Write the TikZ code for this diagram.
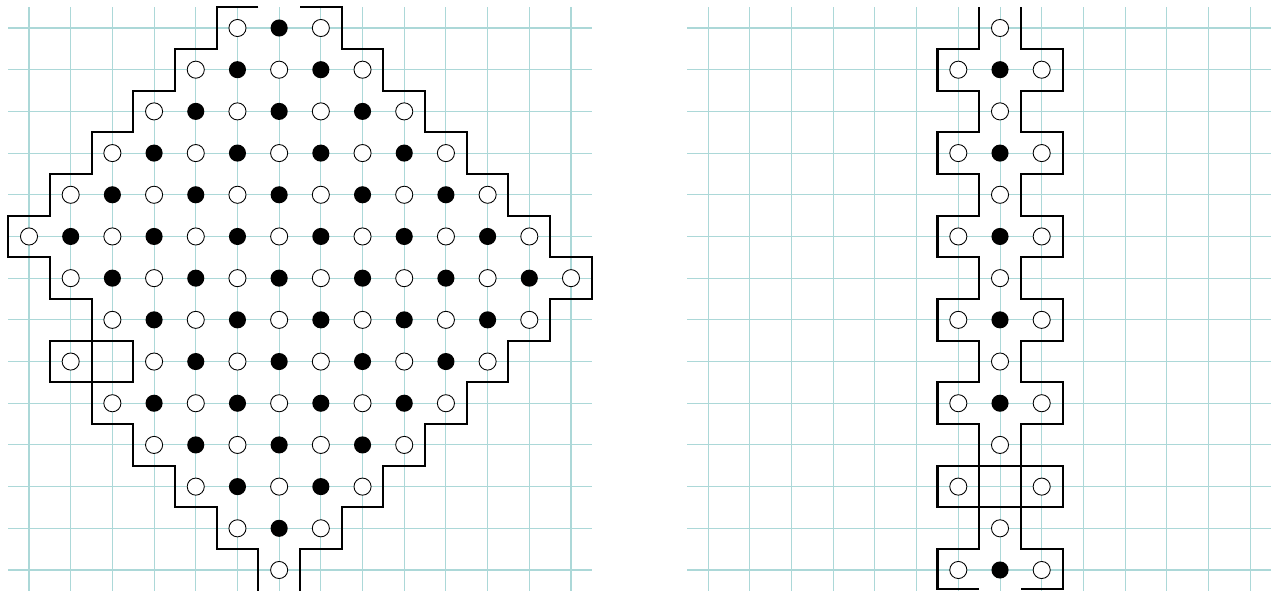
\documentclass[tikz,border=0pt]{standalone}
\definecolor{gridc}{RGB}{172,216,216}
\tikzset{
  gridline/.style={draw=gridc, line width=0.7pt},
  wall/.style={draw=black, line width=1.4pt, line join=miter},
  od/.style={circle, draw=black, fill=white, minimum size=0.41cm, inner sep=0pt, line width=0.6pt},
  fd/.style={circle, fill=black, minimum size=0.41cm, inner sep=0pt},
}
\begin{document}
\begin{tikzpicture}
\useasboundingbox (-0.6956,0.6716) rectangle (29.862,-13.48);
% ---------- left grid ----------
\foreach \r in {0,...,13} \draw[gridline] (-0.5,-\r) -- (13.5,-\r);
\foreach \c in {0,...,13} \draw[gridline] (\c,0.5) -- (\c,-13.6);
% ---------- right grid ----------
\begin{scope}[xshift=16.29cm]
\foreach \r in {0,...,13} \draw[gridline] (-0.5,-\r) -- (13.5,-\r);
\foreach \c in {0,...,13} \draw[gridline] (\c,0.5) -- (\c,-13.6);
\end{scope}
% ---------- left outline ----------
\draw[wall] (5.5,0.5) -- (4.5,0.5) -- (4.5,-0.5) -- (3.5,-0.5) -- (3.5,-1.5) -- (2.5,-1.5)
  -- (2.5,-2.5) -- (1.5,-2.5) -- (1.5,-3.5) -- (0.5,-3.5) -- (0.5,-4.5) -- (-0.5,-4.5)
  -- (-0.5,-5.5) -- (0.5,-5.5) -- (0.5,-6.5) -- (1.5,-6.5) -- (1.5,-9.5) -- (2.5,-9.5)
  -- (2.5,-10.5) -- (3.5,-10.5) -- (3.5,-11.5) -- (4.5,-11.5) -- (4.5,-12.5) -- (5.5,-12.5)
  -- (5.5,-13.6);
\draw[wall] (6.5,0.5) -- (7.5,0.5) -- (7.5,-0.5) -- (8.5,-0.5) -- (8.5,-1.5) -- (9.5,-1.5)
  -- (9.5,-2.5) -- (10.5,-2.5) -- (10.5,-3.5) -- (11.5,-3.5) -- (11.5,-4.5) -- (12.5,-4.5)
  -- (12.5,-5.5) -- (13.5,-5.5) -- (13.5,-6.5) -- (12.5,-6.5) -- (12.5,-7.5) -- (11.5,-7.5)
  -- (11.5,-8.5) -- (10.5,-8.5) -- (10.5,-9.5) -- (9.5,-9.5) -- (9.5,-10.5) -- (8.5,-10.5)
  -- (8.5,-11.5) -- (7.5,-11.5) -- (7.5,-12.5) -- (6.5,-12.5) -- (6.5,-13.6);
\draw[wall] (0.5,-7.5) rectangle (2.5,-8.5);
% ---------- left circles ----------
\foreach \r/\a/\b in {0/5/7,1/4/8,2/3/9,3/2/10,4/1/11,5/0/12,6/1/13,7/2/12,8/3/11,9/2/10,10/3/9,11/4/8,12/5/7,13/6/6}{
  \foreach \c in {\a,...,\b}{
    \pgfmathtruncatemacro\p{mod(\c+\r,2)}
    \ifnum\p=0
      \node[fd] (L-\c-\r) at (\c,-\r) {};
    \else
      \node[od] (L-\c-\r) at (\c,-\r) {};
    \fi
  }
}
\node[od] (L-1-8) at (1,-8) {};
% ---------- right outline ----------
\begin{scope}[xshift=16.29cm]
\draw[wall] (6.5,0.5) -- (6.5,-0.5) -- (5.5,-0.5) -- (5.5,-1.5) -- (6.5,-1.5)
  -- (6.5,-2.5) -- (5.5,-2.5) -- (5.5,-3.5) -- (6.5,-3.5)
  -- (6.5,-4.5) -- (5.5,-4.5) -- (5.5,-5.5) -- (6.5,-5.5)
  -- (6.5,-6.5) -- (5.5,-6.5) -- (5.5,-7.5) -- (6.5,-7.5)
  -- (6.5,-8.5) -- (5.5,-8.5) -- (5.5,-9.5) -- (6.5,-9.5)
  -- (6.5,-12.5) -- (5.5,-12.5) -- (5.5,-13.45) -- (6.5,-13.45);
\draw[wall] (7.5,0.5) -- (7.5,-0.5) -- (8.5,-0.5) -- (8.5,-1.5) -- (7.5,-1.5)
  -- (7.5,-2.5) -- (8.5,-2.5) -- (8.5,-3.5) -- (7.5,-3.5)
  -- (7.5,-4.5) -- (8.5,-4.5) -- (8.5,-5.5) -- (7.5,-5.5)
  -- (7.5,-6.5) -- (8.5,-6.5) -- (8.5,-7.5) -- (7.5,-7.5)
  -- (7.5,-8.5) -- (8.5,-8.5) -- (8.5,-9.5) -- (7.5,-9.5)
  -- (7.5,-12.5) -- (8.5,-12.5) -- (8.5,-13.45) -- (7.5,-13.45);
\draw[wall] (5.5,-10.5) rectangle (8.5,-11.5);
% ---------- right circles ----------
\foreach \r in {0,2,4,6,8,10,12} \node[od] (R-7-\r) at (7,-\r) {};
\foreach \r in {1,3,5,7,9,13}{
  \node[od] (R-6-\r) at (6,-\r) {};
  \node[fd] (R-7-\r) at (7,-\r) {};
  \node[od] (R-8-\r) at (8,-\r) {};
}
\node[od] (R-6-11) at (6,-11) {};
\node[od] (R-8-11) at (8,-11) {};
\end{scope}
\end{tikzpicture}
\end{document}
